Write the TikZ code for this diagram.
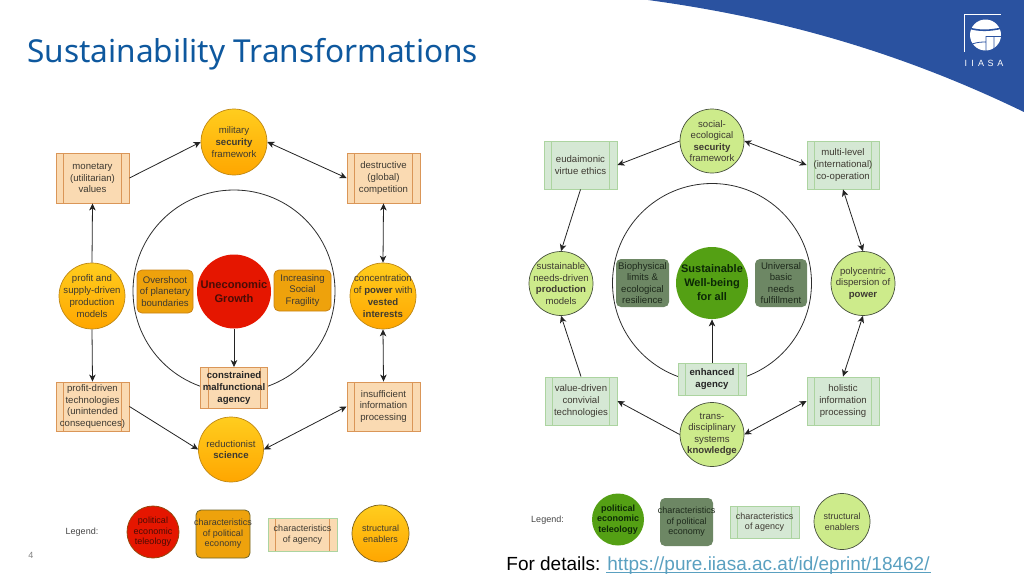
\documentclass[tikz,border=0pt]{standalone}
\usepackage{fontspec}
\setmainfont{Liberation Sans}
\newfontfamily\titlefont{Noto Sans}
\definecolor{iiasa}{RGB}{42, 82, 160}
\definecolor{titleblue}{RGB}{14, 88, 158}
\definecolor{linkblue}{RGB}{90, 160, 192}
\definecolor{inktext}{RGB}{62, 58, 50}
\definecolor{boxorange}{RGB}{250, 218, 178}
\definecolor{lineorange}{RGB}{218, 150, 88}
\definecolor{boxgreen}{RGB}{213, 232, 212}
\definecolor{linegreen}{RGB}{172, 212, 160}
\usetikzlibrary{arrows.meta, backgrounds}

\tikzset{
  procbox/.style={rectangle, inner sep=-5pt, align=center, line width=0.9pt, text=inktext,
    font=\fontsize{9.6}{11.8}\selectfont,
    path picture={
      \draw[#1] ([xshift=7.5pt]path picture bounding box.north west) -- ([xshift=7.5pt]path picture bounding box.south west);
      \draw[#1] ([xshift=-7.5pt]path picture bounding box.north east) -- ([xshift=-7.5pt]path picture bounding box.south east);}},
  orangebox/.style={procbox={lineorange}, fill=boxorange, draw=lineorange},
  greenbox/.style={procbox={linegreen}, fill=boxgreen, draw=linegreen},
  enabler/.style={circle, inner sep=-20pt, align=center, draw={rgb,255:red,190;green,135;blue,20}, line width=0.7pt, text=inktext,
    top color={rgb,255:red,255;green,205;blue,30}, bottom color={rgb,255:red,255;green,166;blue,0},
    font=\fontsize{9.6}{11.8}\selectfont},
  limecirc/.style={circle, inner sep=-20pt, align=center, draw={rgb,255:red,70;green,80;blue,60}, line width=0.7pt, text=inktext,
    fill={rgb,255:red,205;green,235;blue,139}, font=\fontsize{9.6}{11.4}\selectfont},
  telered/.style={circle, inner sep=-20pt, align=center, fill={rgb,255:red,229;green,22;blue,0}, text={rgb,255:red,74;green,12;blue,6}},
  telegreen/.style={circle, inner sep=-20pt, align=center, fill={rgb,255:red,84;green,160;blue,20}, text={rgb,255:red,12;green,40;blue,6}},
  polyorange/.style={rectangle, rounded corners=5pt, inner sep=-6pt, align=center, text=inktext,
    fill={rgb,255:red,238;green,162;blue,12}, draw={rgb,255:red,200;green,130;blue,20}, font=\fontsize{9.6}{11.8}\selectfont},
  polygreen/.style={rectangle, rounded corners=5pt, inner sep=-6pt, align=center, text={rgb,255:red,30;green,42;blue,28},
    fill={rgb,255:red,109;green,135;blue,100}, font=\fontsize{9.6}{11.4}\selectfont},
  ring/.style={circle, draw={rgb,255:red,45;green,45;blue,45}, line width=0.8pt, inner sep=0pt},
  legendtext/.style={font=\fontsize{9}{11}\selectfont, text={rgb,255:red,70;green,70;blue,70}},
  small/.style={font=\fontsize{9}{10.6}\selectfont}
}

\begin{document}
\begin{tikzpicture}[x=1pt, y=-1pt, thick, inner sep=0pt,
  oneway/.style={-{Stealth[length=7pt, width=6.5pt, inset=2pt]}, draw={rgb,255:red,35;green,35;blue,35}, line width=0.8pt},
  twoway/.style={{Stealth[length=7pt, width=6.5pt, inset=2pt]}-{Stealth[length=7pt, width=6.5pt, inset=2pt]}, draw={rgb,255:red,35;green,35;blue,35}, line width=0.8pt}]
\useasboundingbox (0,0) rectangle (1024,576);

  % swoosh and logo
  \fill[iiasa] (648,0) .. controls (780,18) and (900,52) .. (1024,112) -- (1024,0) -- cycle;
  \draw[white, line width=0.7pt] (964.5,52) -- (964.5,14.5) -- (1001,14.5);
  \fill[white] (985.5,35) circle (15.5);
  \draw[iiasa, line width=1.6pt] (969,28) .. controls (978,31) and (990,31) .. (1002,28);
  \draw[iiasa, line width=0.8pt] (972,44) .. controls (978,42) and (982,42) .. (986,42)
        (986,51) -- (986,36.5) -- (1001,36.5)
        (994,51) -- (994,36.5);
  \node[text=white, font=\fontsize{9}{9}\selectfont] (logotext) at (984,63.5) {I\hspace{4.2pt}I\hspace{4.2pt}A\hspace{3.6pt}S\hspace{3.6pt}A};

  % title and footer
  \node[anchor=base west, text=titleblue, font=\titlefont\fontsize{31.6}{40}\selectfont] (title) at (27,62) {Sustainability Transformations};
  \node[text={rgb,255:red,130;green,130;blue,130}, font=\fontsize{9}{9}\selectfont] (page) at (31,555) {4};
  \node[anchor=base west, font=\fontsize{19}{21}\selectfont] (details) at (506,570) {For details: \textcolor{linkblue}{https://pure.iiasa.ac.at/id/eprint/18462/}};
  \draw[linkblue, line width=0.8pt] (606,572.5) -- (931,572.5);

  % left diagram
  \node[ring, minimum size=202pt] (ringL) at (234,291) {};

  \node[enabler, minimum size=66pt] (security) at (234,142) {military\\\textbf{security}\\framework};
  \node[orangebox, minimum width=73pt, minimum height=50pt] (values) at (92.5,178) {monetary\\(utilitarian)\\values};
  \node[orangebox, minimum width=73pt, minimum height=50pt] (competition) [right of=values, node distance=291pt] {destructive\\(global)\\competition};
  \node[enabler, minimum size=66pt] (production) at (92,296) {profit and\\supply-driven\\production\\models};
  \node[enabler, minimum size=66pt] (power) [right of=production, node distance=291pt] {concentration\\of \textbf{power} with\\\textbf{vested}\\\textbf{interests}};
  \node[orangebox, minimum width=73pt, minimum height=49pt] (technologies) at (92.5,406.5) {profit-driven\\technologies\\(unintended\\consequences)};
  \node[orangebox, minimum width=73pt, minimum height=49pt] (information) [right of=technologies, node distance=291pt] {insufficient\\information\\processing};
  \node[enabler, minimum size=65pt] (science) at (231,449.5) {reductionist\\\textbf{science}};
  \node[orangebox, minimum width=67pt, minimum height=41pt, text=black!85] (agency) at (234,388) {\textbf{constrained}\\\textbf{malfunctional}\\\textbf{agency}};

  \node[telered, minimum size=74pt, font=\fontsize{11.1}{14}\selectfont\bfseries] (growth) at (234,291.5) {Uneconomic\\Growth};
  \node[polyorange, minimum width=56pt, minimum height=43pt] (overshoot) at (165,291.5) {Overshoot\\of planetary\\boundaries};
  \node[polyorange, minimum width=57pt, minimum height=41pt] (fragility) at (302.5,290.5) {Increasing\\Social\\Fragility};

  \path (values.east) edge [oneway] (security.west)
        (production.north) edge [oneway] (values.south)
        (production.south) edge [oneway] (technologies.north)
        (technologies.east) edge [oneway] (science.west)
        (growth.south) edge [oneway] (agency.north)
        (security.east) edge [twoway] (competition.west)
        (competition.south) edge [twoway] (power.north)
        (power.south) edge [twoway] (information.north)
        (information.west) edge [twoway] (science.east)
        ;

  % left legend
  \node[legendtext] (legendL) at (82,532) {Legend:};
  \node[telered, minimum size=52pt, draw={rgb,255:red,150;green,70;blue,10}, font=\fontsize{9}{10.6}\selectfont] (legredA) at (153,532) {political\\economic\\teleology};
  \node[polyorange, small, minimum width=54pt, minimum height=48pt, draw={rgb,255:red,110;green,100;blue,40}] (legredB) at (223,534) {characteristics\\of political\\economy};
  \node[orangebox, small, minimum width=69pt, minimum height=33pt, draw=linegreen] (legredC) at (302.5,534.5) {characteristics\\of agency};
  \node[enabler, small, minimum size=57pt, draw={rgb,255:red,120;green,95;blue,30}] (legredD) at (380.5,533.5) {structural\\enablers};

  % right diagram
  \node[ring, minimum size=199pt] (ringR) at (712,283) {};

  \node[limecirc, minimum size=64pt] (socialsec) at (712,141) {social-\\ecological\\\textbf{security}\\framework};
  \node[greenbox, minimum width=73pt, minimum height=48pt] (ethics) at (580.5,165) {eudaimonic\\virtue ethics};
  \node[greenbox, minimum width=72pt, minimum height=48pt] (cooperation) at (843,165) {multi-level\\(international)\\co-operation};
  \node[limecirc, minimum size=64pt] (needs) at (561,283.5) {sustainable\\needs-driven\\\textbf{production}\\models};
  \node[limecirc, minimum size=64pt] (dispersion) at (863,283.5) {polycentric\\dispersion of\\\textbf{power}};
  \node[greenbox, minimum width=72pt, minimum height=48pt] (convivial) at (581,401) {value-driven\\convivial\\technologies};
  \node[greenbox, minimum width=72pt, minimum height=48pt] (holistic) at (843,401) {holistic\\information\\processing};
  \node[limecirc, minimum size=64pt] (knowledge) at (712,434.5) {trans-\\disciplinary\\systems\\\textbf{knowledge}};
  \node[greenbox, minimum width=68pt, minimum height=32pt, text=black!85] (enhanced) at (712,379) {\textbf{enhanced}\\\textbf{agency}};

  \node[telegreen, minimum size=72pt, font=\fontsize{11}{14}\selectfont\bfseries] (wellbeing) at (712,283) {Sustainable\\Well-being\\for all};
  \node[polygreen, minimum width=53pt, minimum height=48pt] (limits) at (642.5,283) {Biophysical\\limits \&\\ecological\\resilience};
  \node[polygreen, minimum width=52pt, minimum height=48pt] (basic) at (781,283) {Universal\\basic\\needs\\fulfillment};

  \path (socialsec.west) edge [oneway] (ethics.east)
        (ethics.south) edge [oneway] (needs.north)
        (convivial.north) edge [oneway] (needs.south)
        (knowledge.west) edge [oneway] (convivial.east)
        (enhanced.north) edge [oneway] (wellbeing.south)
        (socialsec.east) edge [twoway] (cooperation.west)
        (cooperation.south) edge [twoway] (dispersion.north)
        (dispersion.south) edge [twoway] (holistic.north)
        (holistic.west) edge [twoway] (knowledge.east)
        ;

  % right legend
  \node[legendtext] (legendR) at (547.5,520) {Legend:};
  \node[telegreen, minimum size=52pt, font=\fontsize{9}{10.6}\selectfont\bfseries] (leggreenA) at (618,519.5) {political\\economic\\teleology};
  \node[polygreen, small, minimum width=53pt, minimum height=48pt] (leggreenB) at (686.5,522) {characteristics\\of political\\economy};
  \node[greenbox, small, minimum width=69pt, minimum height=32pt] (leggreenC) at (764.5,522) {characteristics\\of agency};
  \node[limecirc, small, minimum size=56pt] (leggreenD) at (842,521.5) {structural\\enablers};
\end{tikzpicture}
\end{document}
